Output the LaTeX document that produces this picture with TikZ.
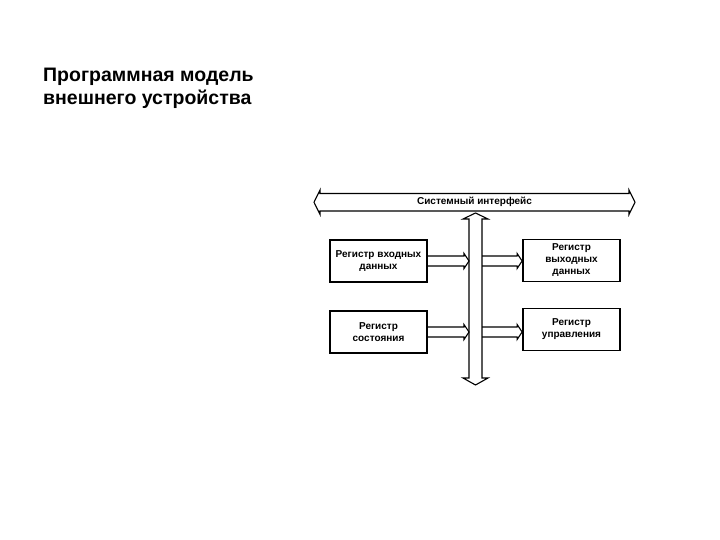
\documentclass[tikz,border=0pt]{standalone}
\usepackage{fontspec}
\setmainfont{Liberation Sans}
\usetikzlibrary{calc}

% outline arrow from tail #1 to tip #2 (same height)
\newcommand{\blockarrow}[2]{%
  \draw[hollow,fill=none] ($(#1)+(0,-5)$) -- ($(#2)+(-5,-5)$) -- ($(#2)+(-5,-7.5)$) -- (#2)
    -- ($(#2)+(-5,7.5)$) -- ($(#2)+(-5,5)$) -- ($(#1)+(0,5)$);}

\begin{document}
\begin{tikzpicture}[x=1pt,y=-1pt,
    reg/.style={draw,line width=1.8pt,minimum width=97pt,minimum height=42pt,
      align=center,font=\bfseries\fontsize{10}{12}\selectfont,inner sep=1pt},
    hollow/.style={draw,fill=white,line width=1.1pt,line join=miter},
    title/.style={anchor=base west,inner sep=0pt,font=\bfseries\fontsize{19.5}{23}\selectfont}]

  \useasboundingbox (0,0) rectangle (720,540);

  \node[title] (title1) at (43,82) {Программная модель};
  \node[title] (title2) at (43,105) {внешнего устройства};

  % system bus
  \coordinate (busL) at (314,202.25);
  \coordinate (busR) at (635,202.25);
  \draw[hollow] (busL) -- ++(6,-12.25) -- ++(0,3.5) -- ($(busR)+(-6,-8.75)$) -- ++(0,-3.5)
    -- (busR) -- ++(-6,12.25) -- ++(0,-3.5) -- ($(busL)+(6,8.75)$) -- ++(0,3.5) -- cycle;
  \node[font=\bfseries\fontsize{10}{12}\selectfont] (buslabel) at ($(busL)!0.5!(busR)$) {Системный интерфейс};

  % vertical bus
  \coordinate (vtop) at (475.5,213);
  \coordinate (vbot) at (475.5,385);
  \draw[hollow] (vtop) -- ++(12.5,6) -- ++(-6,0) -- ($(vbot)+(6.5,-7)$) -- ++(6,0)
    -- (vbot) -- ++(-12.5,-7) -- ++(6,0) -- ($(vtop)+(-6.5,6)$) -- ++(-6,0) -- cycle;

  \node[reg] (inreg) at (378.5,261) {Регистр входных\\данных};
  \node[reg] (outreg) at (571.5,260.5) {Регистр\\выходных\\данных};
  \node[reg] (statereg) at (378.5,332) {Регистр\\состояния};
  \node[reg] (ctrlreg) at (571.5,329.5) {Регистр\\управления};

  \blockarrow{inreg.east}{$(inreg.east -| vtop)+(-6.5,0)$}
  \blockarrow{$(inreg.east -| vtop)+(6.5,0)$}{inreg.east -| outreg.west}
  \blockarrow{statereg.east}{$(statereg.east -| vtop)+(-6.5,0)$}
  \blockarrow{$(statereg.east -| vtop)+(6.5,0)$}{statereg.east -| ctrlreg.west}

\end{tikzpicture}
\end{document}
